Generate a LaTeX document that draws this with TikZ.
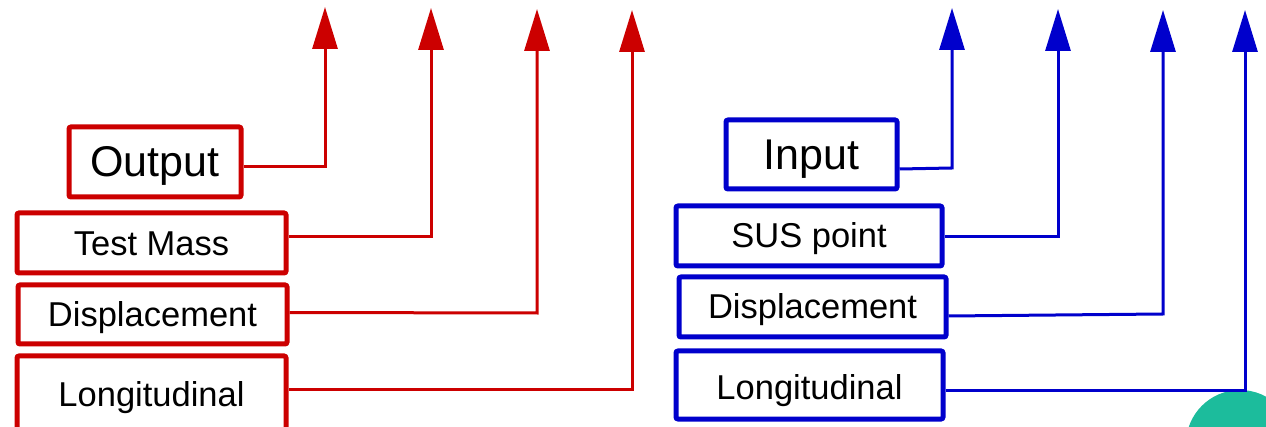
\documentclass[tikz,border=0pt]{standalone}
\usepackage{fontspec}
\setmainfont{Liberation Sans}
\usetikzlibrary{arrows.meta}
\definecolor{myred}{RGB}{204,0,0}
\definecolor{myblue}{RGB}{0,0,204}
\definecolor{myteal}{RGB}{28,188,156}
\newcommand{\lowr}[2]{\raisebox{-#1}[\height][\depth]{#2}}
\tikzset{
  box/.style={draw, line width=5pt, rounded corners=2pt, fill=white, inner sep=0pt, align=center},
  redbox/.style={box, draw=myred},
  bluebox/.style={box, draw=myblue},
  bigtxt/.style={font=\fontsize{43}{50}\selectfont},
  smalltxt/.style={font=\fontsize{34.5}{41}\selectfont},
  redcon/.style={draw=myred, line width=3pt, -{Triangle[length=42pt,width=25pt]}},
  bluecon/.style={draw=myblue, line width=3pt, -{Triangle[length=42pt,width=25pt]}},
}
\begin{document}
\begin{tikzpicture}[x=1pt,y=-1pt]
\useasboundingbox (0,0) rectangle (1266,427);
\fill[white] (0,0) rectangle (1266,427);
% teal circle
\fill[myteal] (1240,444) circle (54);
% red boxes
\node[redbox, bigtxt, minimum width=172pt, minimum height=70pt] (out) at (155,162) {\lowr{4pt}{Output}};
\node[redbox, smalltxt, minimum width=269pt, minimum height=60pt] (tm) at (151.5,243) {\lowr{1pt}{Test Mass}};
\node[redbox, smalltxt, minimum width=269pt, minimum height=59pt] (dr) at (152.5,314.5) {\lowr{3pt}{Displacement}};
\node[redbox, smalltxt, minimum width=269pt, minimum height=74pt] (lr) at (151.5,393) {\lowr{5pt}{Longitudinal}};
% blue boxes
\node[bluebox, bigtxt, minimum width=171pt, minimum height=69pt] (in) at (811.5,154.5) {\lowr{5pt}{Input}};
\node[bluebox, smalltxt, minimum width=266pt, minimum height=60pt] (sus) at (809,236) {\lowr{3pt}{SUS point}};
\node[bluebox, smalltxt, minimum width=267pt, minimum height=60pt] (db) at (812.5,307) {\lowr{3pt}{Displacement}};
\node[bluebox, smalltxt, minimum width=267pt, minimum height=68pt] (lb) at (809.5,385) {\lowr{6pt}{Longitudinal}};
% red connectors
\coordinate (rc1) at (325,167); \coordinate (rt1) at (325,7);
\coordinate (rc2) at (431,237); \coordinate (rt2) at (431,8);
\coordinate (rc3) at (537,313); \coordinate (rt3) at (537,9);
\coordinate (rc4) at (632,389); \coordinate (rt4) at (632,10);
\draw[redcon] (out.east |- rc1) -- (rc1) -- (rt1);
\draw[redcon] (tm.east |- rc2) -- (rc2) -- (rt2);
\draw[redcon] ([yshift=2pt]dr.east) -- (rc3) -- (rt3);
\draw[redcon] (lr.east |- rc4) -- (rc4) -- (rt4);
% blue connectors
\coordinate (bc1) at (952,168); \coordinate (bt1) at (952,8);
\coordinate (bc2) at (1058,237); \coordinate (bt2) at (1058,9);
\coordinate (bc3) at (1163,314); \coordinate (bt3) at (1163,10);
\coordinate (bc4) at (1245,390); \coordinate (bt4) at (1245,10);
\draw[bluecon] ([yshift=-1pt]in.east |- bc1) -- (bc1) -- (bt1);
\draw[bluecon] (sus.east |- bc2) -- (bc2) -- (bt2);
\draw[bluecon] ([yshift=-2pt]db.east |- bc3) -- (bc3) -- (bt3);
\draw[bluecon] (lb.east |- bc4) -- (bc4) -- (bt4);
\end{tikzpicture}
\end{document}
